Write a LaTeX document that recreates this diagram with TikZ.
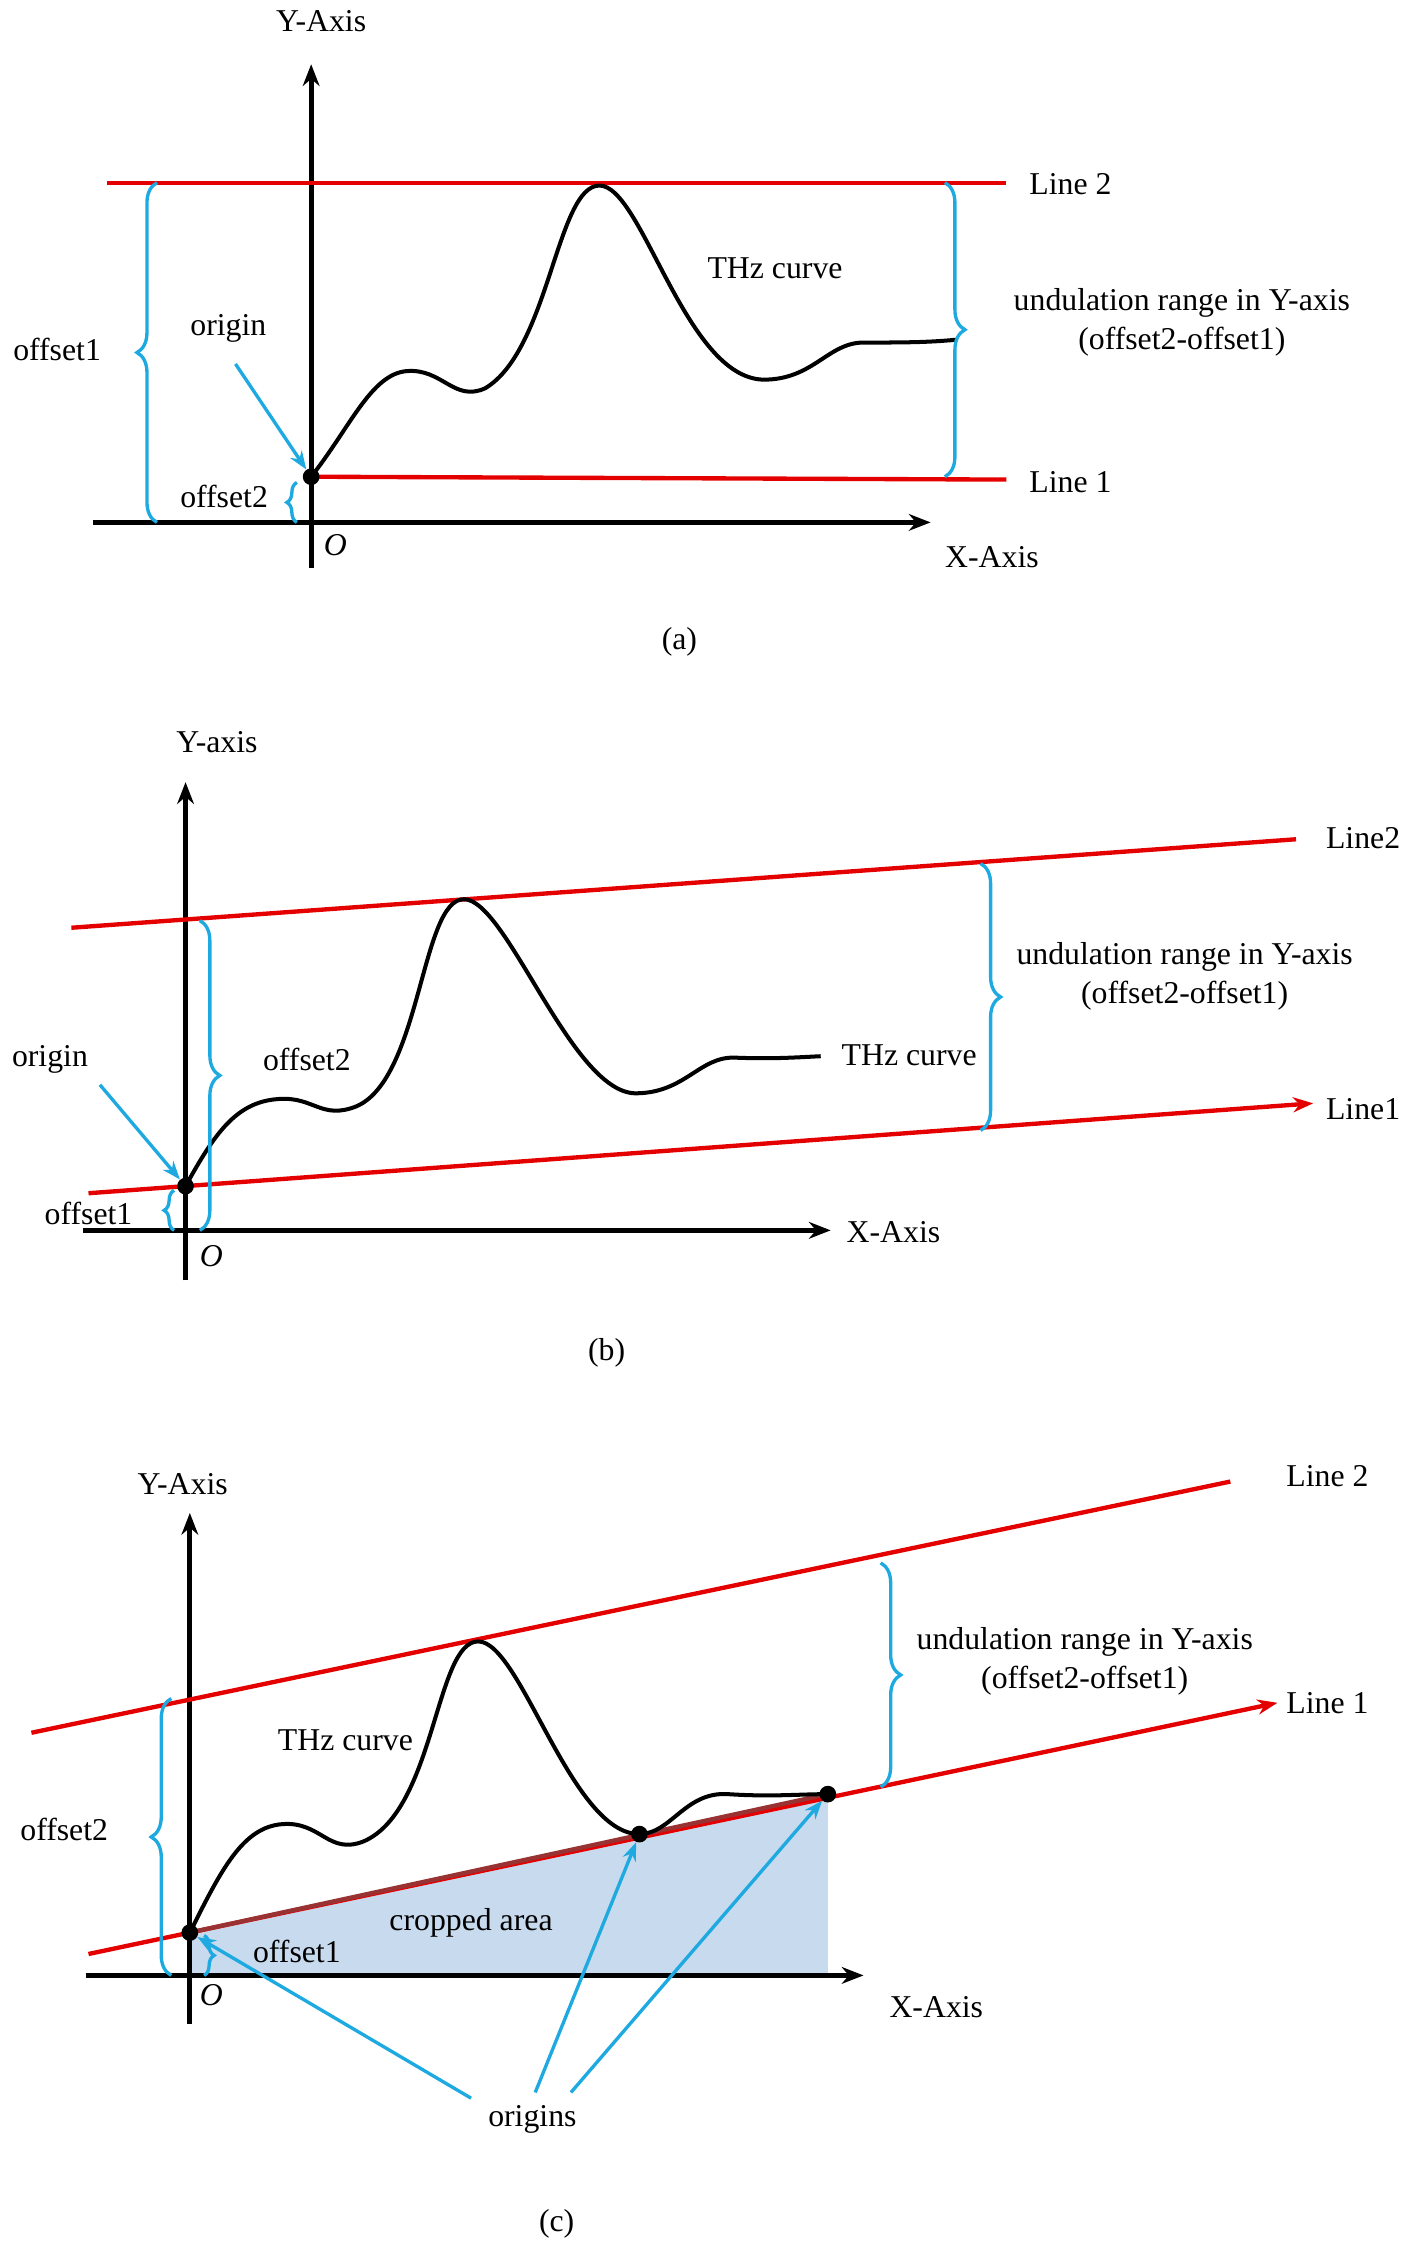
\documentclass[tikz,border=0pt]{standalone}
\usepackage{fontspec}
\setmainfont{Liberation Serif}
\usetikzlibrary{decorations.pathreplacing,arrows.meta}
\definecolor{bl}{RGB}{30,170,225}
\definecolor{croppedfill}{RGB}{200,218,238}
\begin{document}
\begin{tikzpicture}[x=0.03cm,y=-0.03cm,
 lbl/.style={font=\fontsize{19}{23}\selectfont,inner sep=1pt},
 axis/.style={line width=3pt,-{Stealth[length=13pt,width=10pt]}},
 redl/.style={red!90!black,line width=2.6pt},
 curve/.style={line width=2.4pt},
 brc/.style={decorate,decoration={brace,amplitude=12pt},bl,line width=2pt},
 sbrc/.style={decorate,decoration={brace,amplitude=6pt},bl,line width=2pt},
 barr/.style={bl,line width=2pt,-{Stealth[length=11pt]}},
 dot/.style={circle,fill=black,inner sep=0pt,minimum size=10pt}]
\useasboundingbox (0,0) rectangle (992,1575);
% ---------- (a)
\coordinate (ay0) at (218,398); \coordinate (ay1) at (218,45);
\coordinate (ax0) at (65,366); \coordinate (ax1) at (652,366);
\draw[axis] (ay0)--(ay1); \draw[axis] (ax0)--(ax1);
\node[lbl] (aya) at (225,15) {Y-Axis};
\node[lbl] (axa) at (695,390) {X-Axis};
\node[lbl] (ao) at (235,382) {\itshape O};
\coordinate (al2a) at (75,128); \coordinate (al2b) at (705,128);
\coordinate (al1a) at (218,334); \coordinate (al1b) at (705,336);
\draw[redl] (al2a)--(al2b); \draw[redl] (al1a)--(al1b);
\node[lbl] (aL2) at (750,129) {Line 2};
\node[lbl] (aL1) at (750,338) {Line 1};
\draw[curve] (al1a) .. controls (245,300) and (260,262) .. (285,260)
 .. controls (310,258) and (318,282) .. (340,272)
 .. controls (385,245) and (390,130) .. (420,130)
 .. controls (450,130) and (480,265) .. (535,266)
 .. controls (570,266) and (580,240) .. (605,240)
 .. controls (630,240) and (650,240) .. (670,238);
\node[dot] (adot) at (al1a) {};
\node[lbl] (athz) at (543,188) {THz curve};
\draw[brc] (110,366)--(110,128);
\node[lbl] (aoff1) at (40,245) {offset1};
\draw[brc] (662,128)--(662,334);
\node[lbl,align=center] (aund) at (828,226) {undulation range in Y-axis\\(offset2-offset1)};
\draw[sbrc] (208,366)--(208,338);
\node[lbl] (aoff2) at (157,348) {offset2};
\node[lbl] (aorig) at (160,230) {origin};
\draw[barr] (165,255) coordinate (aos) -- (adot);
\node[lbl] (acap) at (476,450) {(a)};
% ---------- (b)
\coordinate (by0) at (130,897); \coordinate (by1) at (130,548);
\coordinate (bx0) at (58,862); \coordinate (bx1) at (582,862);
\draw[axis] (by0)--(by1); \draw[axis] (bx0)--(bx1);
\node[lbl] (bya) at (152,520) {Y-axis};
\node[lbl] (bxa) at (626,863) {X-Axis};
\node[lbl] (bo) at (148,880) {\itshape O};
\coordinate (bl2a) at (50,650); \coordinate (bl2b) at (908,588);
\coordinate (bl1a) at (62,836); \coordinate (bl1b) at (920,773);
\draw[redl] (bl2a)--(bl2b);
\draw[redl,-{Stealth[length=12pt]}] (bl1a)--(bl1b);
\node[lbl] (bL2) at (955,587) {Line2};
\node[lbl] (bL1) at (955,777) {Line1};
\coordinate (bo0) at (130,831);
\draw[curve] (bo0) .. controls (150,795) and (165,772) .. (195,770)
 .. controls (220,768) and (225,785) .. (250,775)
 .. controls (295,755) and (295,630) .. (325,630)
 .. controls (355,630) and (400,765) .. (445,766)
 .. controls (480,766) and (490,740) .. (515,741)
 .. controls (540,742) and (555,741) .. (575,740);
\node[dot] (bdot) at (bo0) {};
\node[lbl] (bthz) at (637,739) {THz curve};
\draw[brc] (140,645)--(140,862);
\node[lbl] (boff2) at (215,742) {offset2};
\draw[sbrc] (122,862)--(122,834);
\node[lbl] (boff1) at (62,850) {offset1};
\node[lbl] (borig) at (35,742) {origin};
\draw[barr] (70,760) coordinate (bos) -- (bdot);
\draw[brc] (687,605)--(687,792);
\node[lbl,align=center] (bund) at (830,684) {undulation range in Y-axis\\(offset2-offset1)};
\node[lbl] (bcap) at (425,948) {(b)};
% ---------- (c)
\coordinate (cy0) at (133,1418); \coordinate (cy1) at (133,1060);
\coordinate (cx0) at (60,1384); \coordinate (cx1) at (605,1384);
\coordinate (co0) at (133,1354); \coordinate (co1) at (448,1285); \coordinate (co2) at (580,1257);
\fill[croppedfill] (co0)--(co2)--(580,1384)--(133,1384)--cycle;
\draw[axis] (cy0)--(cy1); \draw[axis] (cx0)--(cx1);
\node[lbl] (cya) at (128,1040) {Y-Axis};
\node[lbl] (cxa) at (656,1406) {X-Axis};
\node[lbl] (co) at (148,1398) {\itshape O};
\coordinate (cl2a) at (22,1214); \coordinate (cl2b) at (862,1038);
\coordinate (cl1a) at (62,1369); \coordinate (cl1b) at (895,1193);
\draw[redl] (cl2a)--(cl2b);
\draw[redl,-{Stealth[length=12pt]}] (cl1a)--(cl1b);
\draw[red!50!black!80,line width=2.6pt] (co0)--(co2);
\node[lbl] (cL2) at (930,1034) {Line 2};
\node[lbl] (cL1) at (930,1193) {Line 1};
\draw[curve] (co0) .. controls (155,1310) and (170,1280) .. (198,1278)
 .. controls (225,1276) and (230,1300) .. (255,1290)
 .. controls (305,1268) and (305,1150) .. (335,1150)
 .. controls (365,1150) and (400,1285) .. (448,1285)
 .. controls (470,1285) and (480,1255) .. (510,1257)
 .. controls (540,1259) and (560,1257) .. (co2);
\node[dot] (cd0) at (co0) {}; \node[dot] (cd1) at (co1) {}; \node[dot] (cd2) at (co2) {};
\node[lbl] (cthz) at (242,1219) {THz curve};
\node[lbl] (ccrop) at (330,1347) {cropped area};
\draw[brc] (120,1384)--(120,1190);
\node[lbl] (coff2) at (45,1282) {offset2};
\draw[sbrc] (143,1356)--(143,1384);
\node[lbl] (coff1) at (208,1367) {offset1};
\draw[brc] (617,1095)--(617,1252);
\node[lbl,align=center] (cund) at (760,1164) {undulation range in Y-axis\\(offset2-offset1)};
\node[lbl] (corig) at (373,1485) {origins};
\draw[barr] (330,1470) coordinate (ca) -- (cd0);
\draw[barr] (375,1466) coordinate (cb) -- (cd1);
\draw[barr] (400,1466) coordinate (cc) -- (cd2);
\node[lbl] (ccap) at (390,1558) {(c)};
\end{tikzpicture}
\end{document}
